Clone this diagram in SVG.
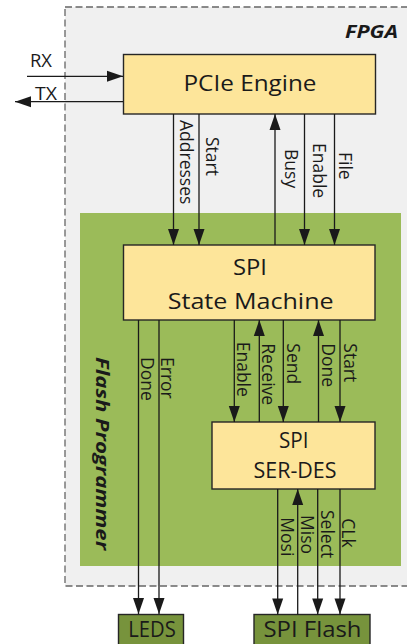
<svg xmlns="http://www.w3.org/2000/svg" width="407" height="644" viewBox="0 0 407 644">
<style>
text{font-family:"Open Sans","Liberation Sans",sans-serif;fill:#1a1a1a}
.title{font-size:21px}
.lbl{font-size:17.5px}
.bi{font-weight:bold;font-style:italic}
.box{fill:#fde59a;stroke:#262626;stroke-width:1.4}
.ext{fill:#77933c;stroke:#262626;stroke-width:1.4}
.wire{stroke:#1a1a1a;stroke-width:1.3;fill:none;marker-end:url(#ah)}
</style>
<defs>
<marker id="ah" markerUnits="userSpaceOnUse" markerWidth="16" markerHeight="11" refX="16" refY="5.5" orient="auto" overflow="visible">
<path d="M0,0 L16,5.5 L0,11 z" fill="#1a1a1a"/>
</marker>
</defs>
<rect width="407" height="644" fill="#ffffff"/>
<g id="fpga">
<rect x="65" y="7" width="360" height="579" fill="#f0f0f0" stroke="#666666" stroke-width="1.3" stroke-dasharray="7,3.5"/>
<text class="bi" x="398" y="38" font-size="18" text-anchor="end" textLength="53" lengthAdjust="spacingAndGlyphs">FPGA</text>
</g>
<g id="flash-programmer">
<rect x="80" y="213" width="321" height="353" fill="#9bbb59"/>
<text class="bi" transform="translate(95.5,357) rotate(90)" font-size="18" textLength="193" lengthAdjust="spacingAndGlyphs">Flash Programmer</text>
</g>
<g id="pcie-engine">
<rect class="box" x="123.5" y="54.5" width="252" height="59.5"/>
<text class="title" x="250" y="90.7" text-anchor="middle" textLength="133" lengthAdjust="spacingAndGlyphs">PCIe Engine</text>
</g>
<g id="spi-state-machine">
<rect class="box" x="123.5" y="245" width="251.5" height="75"/>
<text class="title" x="250" y="275" text-anchor="middle" textLength="34" lengthAdjust="spacingAndGlyphs">SPI</text>
<text class="title" x="250.7" y="309" text-anchor="middle" textLength="166" lengthAdjust="spacingAndGlyphs">State Machine</text>
</g>
<g id="spi-serdes">
<rect class="box" x="212" y="422" width="163" height="67"/>
<text class="title" x="293.7" y="448.3" text-anchor="middle" textLength="29.5" lengthAdjust="spacingAndGlyphs">SPI</text>
<text class="title" x="295" y="478.3" text-anchor="middle" textLength="83" lengthAdjust="spacingAndGlyphs">SER-DES</text>
</g>
<g id="leds">
<rect class="ext" x="118.5" y="614.5" width="65" height="32"/>
<text class="title" x="152" y="636.5" text-anchor="middle" textLength="47.5" lengthAdjust="spacingAndGlyphs">LEDS</text>
</g>
<g id="spi-flash">
<rect class="ext" x="254" y="614.5" width="116" height="32"/>
<text class="title" x="312.5" y="636.5" text-anchor="middle" textLength="98" lengthAdjust="spacingAndGlyphs">SPI Flash</text>
</g>
<g id="connectors">
<line class="wire" x1="27" y1="76.3" x2="123" y2="76.3"/>
<line class="wire" x1="123" y1="101.7" x2="15" y2="101.7"/>
<line class="wire" x1="173.5" y1="114" x2="173.5" y2="245"/>
<line class="wire" x1="199" y1="114" x2="199" y2="245"/>
<line class="wire" x1="275" y1="245" x2="275" y2="114"/>
<line class="wire" x1="304.5" y1="114" x2="304.5" y2="245"/>
<line class="wire" x1="334.5" y1="114" x2="334.5" y2="245"/>
<line class="wire" x1="138.5" y1="320" x2="138.5" y2="614"/>
<line class="wire" x1="159" y1="320" x2="159" y2="614"/>
<line class="wire" x1="234.3" y1="320" x2="234.3" y2="422"/>
<line class="wire" x1="259.3" y1="422" x2="259.3" y2="320"/>
<line class="wire" x1="283.3" y1="320" x2="283.3" y2="422"/>
<line class="wire" x1="318.5" y1="422" x2="318.5" y2="320"/>
<line class="wire" x1="340" y1="320" x2="340" y2="422"/>
<line class="wire" x1="277.7" y1="489" x2="277.7" y2="614.5"/>
<line class="wire" x1="297.7" y1="614.5" x2="297.7" y2="489"/>
<line class="wire" x1="317.7" y1="489" x2="317.7" y2="614.5"/>
<line class="wire" x1="340" y1="489" x2="340" y2="614.5"/>
<text class="lbl" x="30" y="66.5" textLength="22" lengthAdjust="spacingAndGlyphs">RX</text>
<text class="lbl" x="35" y="100" textLength="22" lengthAdjust="spacingAndGlyphs">TX</text>
<text class="lbl" transform="translate(180,120) rotate(90)">Addresses</text>
<text class="lbl" transform="translate(206,137) rotate(90)">Start</text>
<text class="lbl" transform="translate(284.5,149) rotate(90)">Busy</text>
<text class="lbl" transform="translate(312.5,143) rotate(90)">Enable</text>
<text class="lbl" transform="translate(339,152) rotate(90)">File</text>
<text class="lbl" transform="translate(140.5,357) rotate(90)">Done</text>
<text class="lbl" transform="translate(161,357) rotate(90)">Error</text>
<text class="lbl" transform="translate(237,341.7) rotate(90)">Enable</text>
<text class="lbl" transform="translate(262,343.3) rotate(90)">Receive</text>
<text class="lbl" transform="translate(286.5,343.3) rotate(90)">Send</text>
<text class="lbl" transform="translate(322,343.3) rotate(90)">Done</text>
<text class="lbl" transform="translate(343.5,343.3) rotate(90)">Start</text>
<text class="lbl" transform="translate(281,517.3) rotate(90)">Mosi</text>
<text class="lbl" transform="translate(300.5,515) rotate(90)">Miso</text>
<text class="lbl" transform="translate(321,510) rotate(90)">Select</text>
<text class="lbl" transform="translate(342,518.3) rotate(90)">CLk</text>
</g>
</svg>
